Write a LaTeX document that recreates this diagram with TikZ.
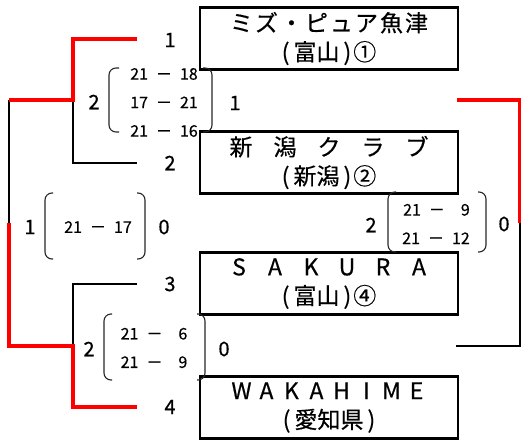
\documentclass[tikz,border=0pt]{standalone}
\usepackage{fontspec}
\setmainfont{Noto Sans CJK JP}[FakeBold=0.5]
\newcommand\gap{\hspace{.5em}}
\newcommand\pl{(\hspace{4pt}}
\newcommand\pr{\hspace{4pt})\hspace{2pt}}
\newcommand\spreadletters[2]{\def\spw{#1}\spreadaux#2\relax}
\def\spreadaux#1{\ifx#1\relax\else\makebox[\spw]{#1}\expandafter\spreadaux\fi}
\begin{document}
\begin{tikzpicture}[x=1pt,y=-1pt,
  team/.style={draw=black, line width=2.5pt, minimum width=258pt, minimum height=62pt,
    inner sep=0pt, font=\fontsize{23}{29}\selectfont, align=center},
  seed/.style={font=\fontsize{20}{20}\selectfont, inner sep=0pt},
  score/.style={font=\fontsize{16}{28.5}\selectfont, inner sep=0pt, align=right},
  win/.style={draw=red, line width=4pt},
  lose/.style={draw=black, line width=2pt},
  paren/.style={draw=black!85, line width=1.1pt, rounded corners=7pt}]
\useasboundingbox (0,0) rectangle (521,439);

% team boxes
\node[team] (b1) at (329,38.5) {\spreadletters{25pt}{ミズ・ピュア魚津}\\\pl 富山\pr ①};
\node[team] (b2) at (329,162.5) {\spreadletters{44pt}{新潟クラブ}\\\pl 新潟\pr ②};
\node[team] (b3) at (329,283.5) {\spreadletters{36pt}{SAKURA}\\\pl 富山\pr ④};
\node[team] (b4) at (329,407.5) {\spreadletters{25pt}{WAKAHIME}\\\pl 愛知県\hspace{4pt})};

% seed numbers
\node[seed] (s1) at (170,40) {1};
\node[seed] (s2) at (170,163) {2};
\node[seed] (s3) at (170,284) {3};
\node[seed] (s4) at (170,407) {4};

% connector coordinates
\coordinate (e1) at (137,39);
\coordinate (e2) at (137,163);
\coordinate (e3) at (137,284);
\coordinate (e4) at (137,407);
\coordinate (j12) at (73,100);
\coordinate (j34) at (73,346);
\coordinate (o1) at (9,100);
\coordinate (om) at (9,223);
\coordinate (o2) at (9,346);
\coordinate (r1) at (457,100);
\coordinate (rc1) at (519.5,100);
\coordinate (rm) at (519.5,223);
\coordinate (rc2) at (519.5,346);
\coordinate (r2) at (456,346);

% losing paths
\draw[lose] (j12) -- (j12 |- e2) -- (e2);
\draw[lose] (e3) -- (j34 |- e3) -- (j34);
\draw[lose] (o1) -- (om);
\draw[lose] (rm) -- (rc2) -- (r2);
% winning paths
\draw[win] (e1) -- (j12 |- e1) -- (j12) -- (o1);
\draw[win] (om) -- (o2) -- (j34) -- (j34 |- e4) -- (e4);
\draw[win] (r1) -- (rc1) -- (rm);

% match 1-2
\node[seed] (m1a) at (94,102) {2};
\node[score] (m1s) at (164,102.5) {21\gap－\gap18\\17\gap－\gap21\\21\gap－\gap16};
\node[seed] (m1b) at (235,103) {1};
\draw[paren] (119,68) -- (109,68) -- (109,132) -- (119,132);
\draw[paren] (203,68) -- (212,68) -- (212,132) -- (203,132);

% match 3-4
\node[seed] (m2a) at (89,349) {2};
\node[score] (m2s) at (154,348) {21\gap－\gap\gap6\\21\gap－\gap\gap9};
\node[seed] (m2b) at (224,349) {0};
\draw[paren] (112,314) -- (104,314) -- (104,380) -- (112,380);
\draw[paren] (197,314) -- (205,314) -- (205,380) -- (197,380);

% final (left)
\node[seed] (m3a) at (30,227) {1};
\node[score] (m3s) at (98,227) {21\gap－\gap17};
\node[seed] (m3b) at (164,227) {0};
\draw[paren] (53,193) -- (45,193) -- (45,259) -- (53,259);
\draw[paren] (137,193) -- (145,193) -- (145,259) -- (137,259);

% right match
\node[seed] (m4a) at (371,225) {2};
\node[score] (m4s) at (436,224) {21\gap－\gap\gap9\\21\gap－\gap12};
\node[seed] (m4b) at (504,224) {0};
\draw[paren] (396,192) -- (388,192) -- (388,252) -- (396,252);
\draw[paren] (478,192) -- (486,192) -- (486,252) -- (478,252);
\end{tikzpicture}
\end{document}
